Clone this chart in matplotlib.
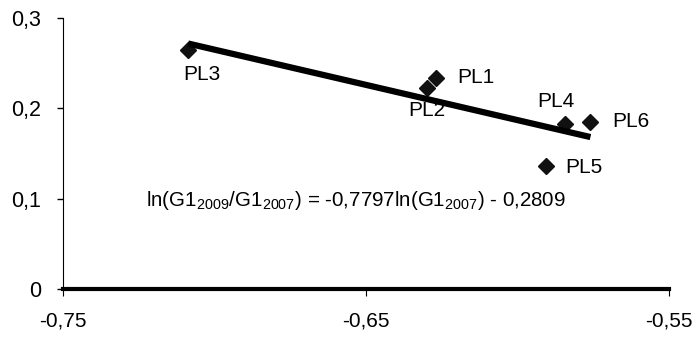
import numpy as np
import matplotlib.pyplot as plt
from matplotlib.ticker import FuncFormatter

plt.rcParams['font.family'] = ['Liberation Sans', 'DejaVu Sans']
plt.rcParams['mathtext.fontset'] = 'custom'
plt.rcParams['mathtext.rm'] = 'Liberation Sans'
plt.rcParams['mathtext.it'] = 'Liberation Sans'

# data
labels = ['PL1', 'PL2', 'PL3', 'PL4', 'PL5', 'PL6']
x_vals = [-0.6268, -0.6299, -0.7087, -0.5844, -0.5907, -0.5759]
y_vals = [0.2337, 0.2222, 0.2647, 0.1827, 0.1362, 0.1853]

# regression from the chart's equation
slope = -0.7797
intercept = -0.2809

x_ticks = [-0.75, -0.65, -0.55]
y_ticks = [0, 0.1, 0.2, 0.3]

# label offsets in points
offsets = {
    'PL1': (15, 0, 'left', 'center'),
    'PL2': (0, -16, 'center', 'center'),
    'PL3': (10, -18, 'center', 'center'),
    'PL4': (-6, 16, 'center', 'center'),
    'PL6': (16, 0, 'left', 'center'),
    'PL5': (14, -1, 'left', 'center'),
}

fig = plt.figure(figsize=(6.98, 3.38), dpi=100)
ax = fig.add_axes([0.0903, 0.145, 0.868, 0.802])

xs = np.array([min(x_vals), max(x_vals)])
ax.plot(xs, slope * xs + intercept, color='black', lw=4.5, solid_capstyle='butt', zorder=3)
ax.plot(x_vals, y_vals, linestyle='none', marker='D', ms=8, color='#111111', zorder=2)

for lab, x, y in zip(labels, x_vals, y_vals):
    dx, dy, ha, va = offsets[lab]
    ax.annotate(lab, (x, y), xytext=(dx, dy), textcoords='offset points',
                ha=ha, va=va, fontsize=15)

ax.text(-0.7225, 0.098,
        r'ln(G1$_{2009}$/G1$_{2007}$) = -0,7797ln(G1$_{2007}$) - 0,2809',
        fontsize=14.8, ha='left', va='center')

ax.set_xlim(-0.75, -0.55)
ax.set_ylim(0, 0.3)
ax.set_xticks(x_ticks)
ax.set_yticks(y_ticks)
fmt = FuncFormatter(lambda v, p: ('%g' % round(v, 2)).replace('.', ','))
ax.xaxis.set_major_formatter(fmt)
ax.yaxis.set_major_formatter(fmt)

ax.spines['top'].set_visible(False)
ax.spines['right'].set_visible(False)
ax.spines['bottom'].set_linewidth(3)
ax.spines['left'].set_linewidth(0.8)
ax.tick_params(axis='y', direction='out', length=4, width=1, labelsize=15.5, pad=12)
ax.tick_params(axis='x', direction='out', length=5, width=0.8, labelsize=15, pad=11)

fig.savefig('out.png', dpi=100)
